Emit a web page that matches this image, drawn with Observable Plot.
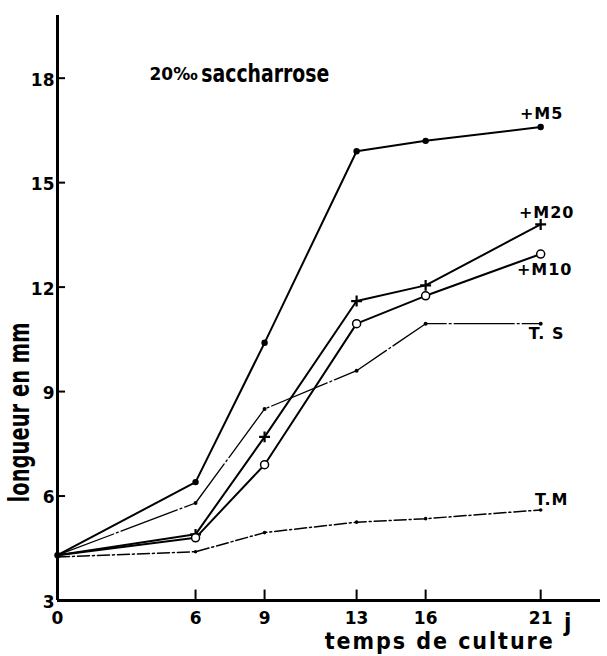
<!DOCTYPE html>
<html><head><meta charset="utf-8">
<script src="https://cdn.jsdelivr.net/npm/d3@7"></script>
<script src="https://cdn.jsdelivr.net/npm/@observablehq/plot@0.6"></script>
<style>body{margin:0;background:#fff}</style>
</head><body><div id="chart"></div>
<script>
const days = [0, 6, 9, 13, 16, 21];
const m5  = [4.3, 6.4, 10.4, 15.9, 16.2, 16.6];
const m20 = [4.3, 4.9, 7.7, 11.6, 12.05, 13.8];
const m10 = [4.3, 4.8, 6.9, 10.95, 11.75, 12.95];
const ts  = [4.3, 5.8, 8.5, 9.6, 10.95, 10.95];
const tm  = [4.25, 4.4, 4.95, 5.25, 5.35, 5.6];
const seriesNames = ["+M5", "+M20", "+M10", "T. S", "T.M"];
const xTicks = [0, 6, 9, 13, 16, 21];
const yTicks = [3, 6, 9, 12, 15, 18];
const titleA = "20‰";
const titleB = "saccharrose";
const yLabel = "longueur en mm";
const xLabel = "temps de culture";
const xUnit = "j";

const all = [m5, m20, m10, ts, tm];
const rows = [];
all.forEach((vals, i) => vals.forEach((v, j) => rows.push({s: seriesNames[i], d: days[j], v})));
const of = s => rows.filter(r => r.s === s);
const last = s => of(s).slice(-1);

const numFont = "DejaVu Sans";
const narrow = "DejaVu Sans Condensed";

const lab = (s, dx, dy) => Plot.text(last(s), {x: "d", y: "v", text: "s", dx, dy, fontSize: 16, fontWeight: "bold", fontFamily: numFont});

const chart = Plot.plot({
  width: 607, height: 656,
  marginLeft: 57, marginRight: 7, marginTop: 15, marginBottom: 56,
  x: {domain: [0, 23.6], axis: null},
  y: {domain: [3, 19.8], axis: null},
  style: {background: "#fff"},
  marks: [
    Plot.ruleX([0], {y1: 3, y2: 19.8, stroke: "#000", strokeWidth: 3}),
    Plot.ruleY([3], {x1: 0, x2: 23.6, stroke: "#000", strokeWidth: 3}),
    Plot.ruleY(yTicks.slice(1), {x1: 0, x2: 0.35, stroke: "#000", strokeWidth: 2}),
    Plot.ruleX(xTicks.slice(1), {y1: 3, y2: 3.3, stroke: "#000", strokeWidth: 2}),
    Plot.text(yTicks, {x: 0, y: d => d, text: d => String(d), textAnchor: "end", dx: -3, dy: 2, fontSize: 17, fontWeight: "bold", fontFamily: numFont}),
    Plot.text(xTicks, {x: d => d, y: 3, text: d => String(d), dy: 18, fontSize: 17, fontWeight: "bold", fontFamily: numFont}),
    // lines
    Plot.line(of("+M5"), {x: "d", y: "v", stroke: "#000", strokeWidth: 2}),
    Plot.line(of("+M20"), {x: "d", y: "v", stroke: "#000", strokeWidth: 2}),
    Plot.line(of("+M10"), {x: "d", y: "v", stroke: "#000", strokeWidth: 2}),
    Plot.line(of("T. S"), {x: "d", y: "v", stroke: "#000", strokeWidth: 1.3, strokeDasharray: "60 3 2 3"}),
    Plot.line(of("T.M"), {x: "d", y: "v", stroke: "#000", strokeWidth: 1.5, strokeDasharray: "12 3 2 3"}),
    // markers
    Plot.dot(of("+M5"), {x: "d", y: "v", r: 3.2, fill: "#000"}),
    Plot.dot(of("+M20").slice(1), {x: "d", y: "v", symbol: "plus", r: 3.6, stroke: "#000", strokeWidth: 2.2, fill: "none"}),
    Plot.dot(of("+M10").slice(1), {x: "d", y: "v", r: 4, stroke: "#000", strokeWidth: 1.5, fill: "#fff"}),
    Plot.dot(of("T. S").slice(1), {x: "d", y: "v", r: 2, fill: "#000"}),
    Plot.dot(of("T.M").slice(1), {x: "d", y: "v", r: 1.8, fill: "#000"}),
    // series labels
    lab("+M5", 1, -13),
    lab("+M20", 6, -12),
    lab("+M10", 4, 16),
    lab("T. S", 6, 10),
    lab("T.M", 11, -10),
    // title & axis labels
    Plot.text([titleA], {x: 4.0, y: 18.1, text: d => d, textAnchor: "start", fontSize: 17, fontWeight: "bold", fontFamily: numFont}),
    Plot.text([titleB], {x: 6.25, y: 18.1, text: d => d, textAnchor: "start", fontSize: 24, fontWeight: "bold", fontFamily: narrow}),
    Plot.text([xUnit], {x: 21, y: 3, text: d => d, dx: 27, dy: 23, fontSize: 24, fontWeight: "bold", fontFamily: narrow}),
    Plot.text([xLabel], {x: 16.57, y: 3, text: d => d, dy: 41, fontSize: 23, fontWeight: "bold", fontFamily: narrow}),
    Plot.text([yLabel], {x: 0, y: 8.4, text: d => d, rotate: -90, dx: -37, fontSize: 28, fontWeight: "bold", fontFamily: narrow})
  ]
});
const fit = (txt, len, adj) => {
  d3.select(chart).selectAll("text").filter(function() { return this.textContent === txt; })
    .attr("textLength", len).attr("lengthAdjust", adj)
    .selectAll("tspan").attr("textLength", len).attr("lengthAdjust", adj);
};
fit(xLabel, 228, "spacing");
fit(titleB, 128, "spacingAndGlyphs");
fit(yLabel, 180, "spacingAndGlyphs");
seriesNames.forEach(s => d3.select(chart).selectAll("text").filter(function() { return this.textContent === s; }).attr("letter-spacing", "1px"));
document.getElementById("chart").appendChild(chart);
</script></body></html>
